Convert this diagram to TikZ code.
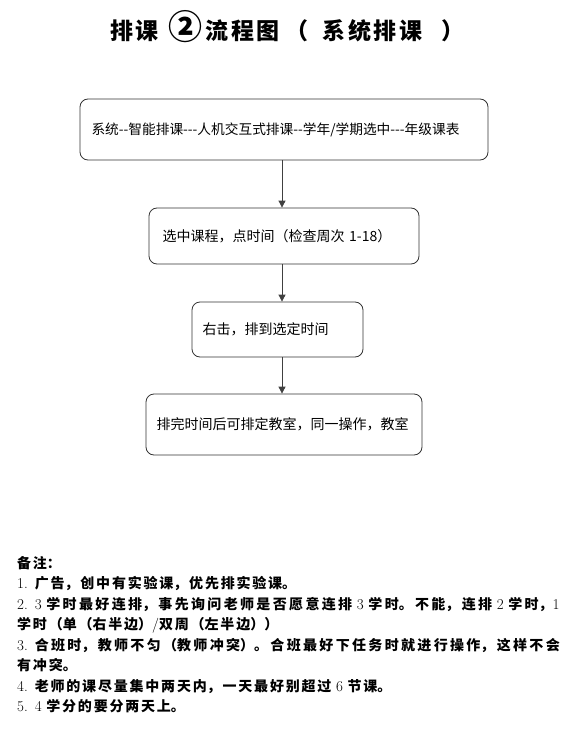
\documentclass[tikz,border=0pt]{standalone}
\usepackage{fontspec}
\newfontfamily\cjk{Noto Sans CJK SC}
\newfontfamily\cjktitle[LetterSpace=11]{Noto Sans CJK SC}
\usetikzlibrary{arrows.meta}
\tikzset{
  flowbox/.style={draw=black!80, line width=0.8pt, rounded corners=8pt,
    inner ysep=0pt, align=left, anchor=center,
    font=\cjk\fontsize{14}{17}\selectfont},
  flowarrow/.style={draw=black!75, line width=0.8pt,
    -{Triangle[length=7pt,width=7pt]}},
  notestext/.style={anchor=base west, inner sep=0pt, text width=550pt,
    font=\cjk\bfseries\fontsize{14}{20.5}\selectfont},
  titletext/.style={anchor=base west, inner sep=0pt,
    font=\cjktitle\bfseries\fontsize{23}{28}\selectfont}
}
\newcommand\lmd[1]{{\normalfont\fontsize{15}{20.5}\selectfont #1}}
\begin{document}
\begin{tikzpicture}[x=1pt,y=-1pt]
\useasboundingbox (0,0) rectangle (585,738);

% title
\node[titletext] (title) at (110,40) {排课\hspace{10pt}{\fontsize{34}{34}\selectfont ②}\hspace{3pt}流程图\hspace{6pt}（\hspace{14pt}系统排课\hspace{19pt}）};

% flow boxes
\node[flowbox, inner xsep=11.5pt, minimum width=408pt, minimum height=61pt, text width=385pt, font=\cjk\fontsize{13.7}{17}\selectfont] (b1) at (284,129.5)
  {系统--智能排课---人机交互式排课--学年/学期选中---年级课表};
\node[flowbox, inner xsep=13.5pt, minimum width=270pt, minimum height=56pt, text width=243pt] (b2) at (284,236)
  {选中课程，点时间（检查周次 1-18）};
\node[flowbox, inner xsep=10.5pt, minimum width=171pt, minimum height=55pt, text width=150pt] (b3) at (277.5,329.5)
  {右击，排到选定时间};
\node[flowbox, inner xsep=10.5pt, minimum width=276pt, minimum height=61pt, text width=255pt] (b4) at (284,424.5)
  {排完时间后可排定教室，同一操作，教室};

% connectors
\coordinate (ax) at (282,0);
\draw[flowarrow] (b1.south -| ax) -- (b2.north -| ax);
\draw[flowarrow] (b2.south -| ax) -- (b3.north -| ax);
\draw[flowarrow] (b3.south -| ax) -- (b4.north -| ax);

% notes
\node[notestext] (notes) at (17,568) {\parindent=0pt\parskip=0pt%
\XeTeXlinebreaklocale "zh"\XeTeXlinebreakskip=1.8pt plus 2pt%
备注：\par
\lmd{1.}\hspace{7pt}广告，创中有实验课，优先排实验课。\par
\lmd{2.}\hspace{7pt}\lmd{3 }学时最好连排，事先询问老师是否愿意连排\lmd{ 3 }学时。不能，连排\lmd{ 2 }学时，\lmd{1}\linebreak 学时（单（右半边）\lmd{/}双周（左半边））\par
\lmd{3.}\hspace{7pt}合班时，教师不匀（教师冲突）。合班最好下任务时就进行操作，这样不会\linebreak 有冲突。\par
\lmd{4.}\hspace{7pt}老师的课尽量集中两天内，一天最好别超过\lmd{ 6 }节课。\par
\lmd{5.}\hspace{7pt}\lmd{4 }学分的要分两天上。\par};
\end{tikzpicture}
\end{document}
